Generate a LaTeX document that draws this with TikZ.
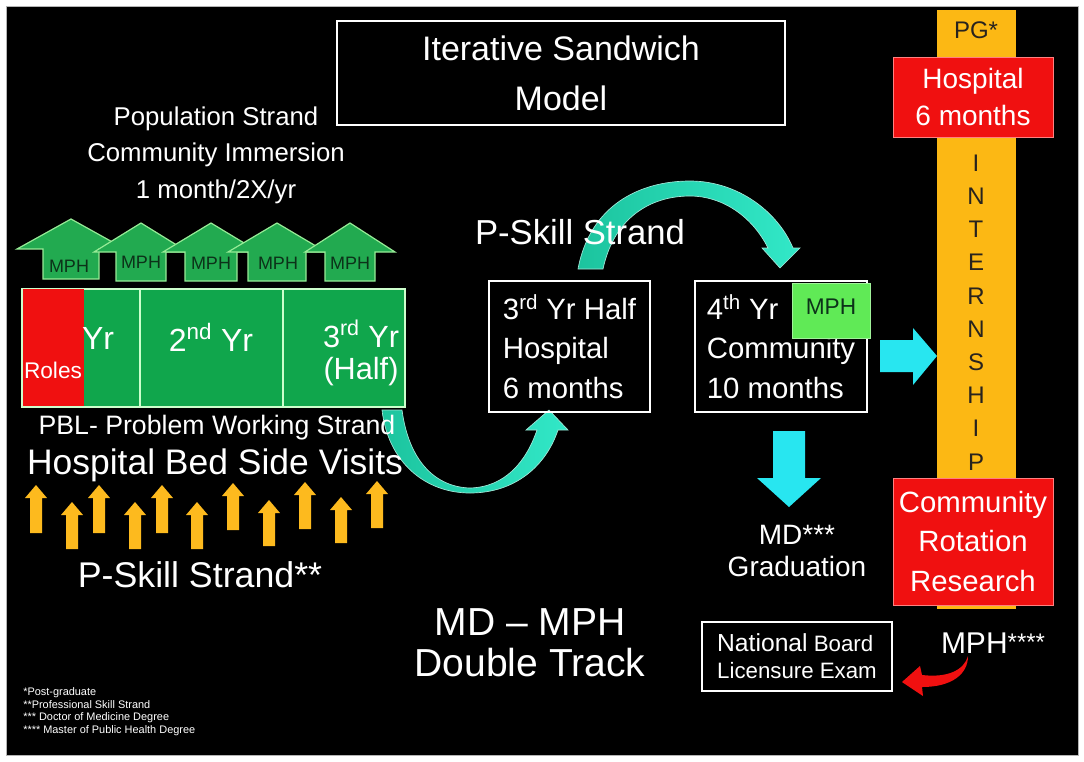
\documentclass[tikz,border=0pt]{standalone}
\usepackage{fontspec}
\setmainfont{Liberation Sans}
\newcommand{\myfs}[2]{\fontsize{#1pt}{#2pt}\selectfont}
\definecolor{barGreen}{RGB}{16,166,76}
\definecolor{arrGreen}{RGB}{34,170,80}
\definecolor{arrEdge}{RGB}{150,235,150}
\definecolor{mphText}{RGB}{12,50,25}
\definecolor{boxRed}{RGB}{240,16,16}
\definecolor{barOrange}{RGB}{252,184,20}
\definecolor{arrYellow}{RGB}{253,186,30}
\definecolor{tealA}{RGB}{28,196,158}
\definecolor{tealB}{RGB}{50,232,200}
\definecolor{cyanA}{RGB}{40,230,240}
\definecolor{mphGreen}{RGB}{96,234,86}
\definecolor{frameGray}{RGB}{180,180,180}
\definecolor{darkTxt}{RGB}{40,35,30}
% style, cx, tip y, head half width, head base y, shaft half width, tail y
\newcommand{\blockarrowv}[7]{%
  \path[#1] (#2,#3) -- ({#2+#4},#5) -- ({#2+#6},#5) -- ({#2+#6},#7)
    -- ({#2-#6},#7) -- ({#2-#6},#5) -- ({#2-#4},#5) -- cycle;}
\tikzset{
  wtxt/.style={text=white, inner sep=0pt},
  greenarr/.style={fill=arrGreen, draw=arrEdge, line width=0.9pt},
  mphlbl/.style={text=mphText, inner sep=0pt, font=\myfs{13.5}{14}},
  yelarr/.style={fill=arrYellow},
  cellbox/.style={fill=barGreen, draw=white!80!green, line width=1pt, minimum height=88.5pt, inner sep=0pt},
  wbox/.style={draw=white, line width=0.8pt, text=white, inner sep=0pt},
  redbox/.style={fill=boxRed, draw=red!50!white, line width=0.6pt, text=white, inner sep=0pt, minimum width=120pt},
  tealarr/.style={left color=tealA, right color=tealB, draw=white!60!tealA, line width=0.5pt},
}
\begin{document}
\begin{tikzpicture}[x=0.75pt, y=-0.75pt]
\useasboundingbox (0,0) rectangle (1084,761);
\fill[white] (0,0) rectangle (1084,761);
\fill[black] (6,6) rectangle (1078,755);
\draw[frameGray, line width=0.75pt] (6,6) rectangle (1078,755);

% title
\node[wbox, minimum width=336pt, minimum height=78pt, align=center, font=\myfs{25.5}{37.5}] (title) at (561,73) {Iterative Sandwich\\Model};

% population strand
\node[wtxt, align=center, font=\myfs{19.3}{27.4}] (pop) at (216,155) {Population Strand\\Community Immersion\\1 month/2X/yr};

% green MPH arrows
\blockarrowv{greenarr}{71}{219}{54}{249}{28}{279}
\node[mphlbl] (m1) at (69,266) {MPH};
\blockarrowv{greenarr}{141}{223}{47}{252}{25}{281}
\node[mphlbl] (m2) at (141,262) {MPH};
\blockarrowv{greenarr}{211}{223}{48}{252}{26}{281}
\node[mphlbl] (m3) at (211,263) {MPH};
\blockarrowv{greenarr}{277}{223}{49}{252}{29}{281}
\node[mphlbl] (m4) at (278,263) {MPH};
\blockarrowv{greenarr}{350}{223}{45}{252}{25}{281}
\node[mphlbl] (m5) at (350,263) {MPH};

% year bar
\node[cellbox, minimum width=88.5pt] (c1) at (81,348) {};
\node[cellbox, minimum width=107.25pt] (c2) at (211.5,348) {};
\node[cellbox, minimum width=91.5pt] (c3) at (344,348) {};
\node[fill=boxRed, minimum width=45.75pt, minimum height=87.75pt, inner sep=0pt] (roles) at (53.5,347.5) {};
\node[wtxt, font=\myfs{17}{18}] (rolestxt) at (53,370) {Roles};
\node[wtxt, font=\myfs{24}{26}] (yr1) at (98,338) {Yr};
\node[wtxt, font=\myfs{24}{26}] (yr2) at (211,337) {2\textsuperscript{nd} Yr};
\node[wtxt, font=\myfs{23}{24}, align=center] (yr3) at (361,353) {3\textsuperscript{rd} Yr\\(Half)};

% teal arrow 1 (bar -> 3rd yr box)
\path[tealarr] (382,410) .. controls (388,462) and (425,493) .. (470,493)
  .. controls (515,493) and (546,466) .. (558,430) -- (568,430) -- (549,410)
  -- (526,430) -- (537,430) .. controls (526,462) and (505,487) .. (470,488)
  .. controls (436,487) and (409,462) .. (402,410) -- cycle;

\node[wtxt, font=\myfs{20}{22}] (pbl) at (217,428) {PBL- Problem Working Strand};
\node[wtxt, font=\myfs{26.6}{28}] (bed) at (215,465) {Hospital Bed Side Visits};

% yellow arrows
\foreach \cx/\ty/\by in {36/485/533, 72/502/549, 99/485/533, 135/502/549, 162/485/533, 197/502/549, 233/483/530, 269/500/546, 305/482/529, 341/497/543, 377/481/528}{
  \blockarrowv{yelarr}{\cx}{\ty}{11}{{\ty+13}}{6}{\by}
}
\node[wtxt, font=\myfs{26.8}{28}] (pskill) at (200,575) {P-Skill Strand**};

% boxes
\node[wbox, minimum width=120.75pt, minimum height=98.25pt, align=left, font=\myfs{22}{29.6}] (b3) at (569.5,346.5) {3\textsuperscript{rd} Yr Half\\Hospital\\6 months};
\node[wbox, minimum width=129pt, minimum height=98.25pt, align=left, font=\myfs{22}{29.6}] (b4) at (781,346.5) {4\textsuperscript{th} Yr\\Community\\10 months};
\node[fill=mphGreen, draw=mphGreen!60!white, line width=0.6pt, minimum width=58.5pt, minimum height=41.25pt, inner sep=0pt] (mph4) at (831,310.5) {};
\node[text=mphText, inner sep=0pt, font=\myfs{17}{18}] (mph4t) at (831,307) {MPH};

% teal arrow 2 (3rd yr box -> 4th yr box)
\path[tealarr] (578,269) .. controls (590,205) and (640,181) .. (690,181)
  .. controls (738,181) and (778,212) .. (793,248) -- (800,248) -- (780,268)
  -- (762,248) -- (768,248) .. controls (752,216) and (722,196) .. (690,196)
  .. controls (650,196) and (614,218) .. (603,269) -- cycle;
\node[wtxt, font=\myfs{26}{28}] (pskill2) at (580,232) {P-Skill Strand};

% cyan arrows
\path[fill=cyanA] (880,340) -- (913,340) -- (913,328) -- (937,356) -- (913,385) -- (913,372) -- (880,372) -- cycle;
\blockarrowv{fill=cyanA}{789}{507}{32}{478}{16}{431}
\node[wtxt, align=center, font=\myfs{21}{24}] (grad) at (797,551) {MD***\\Graduation};

% internship column
\node[fill=barOrange, minimum width=59.25pt, minimum height=449.25pt, inner sep=0pt] (intern) at (976.5,309.5) {};
\node[text=darkTxt, inner sep=0pt, font=\myfs{18}{19}] (pg) at (976,30) {PG*};
\node[redbox, minimum height=60pt, align=center, font=\myfs{21}{27.75}] (hosp) at (973,97) {Hospital\\6 months};
\node[redbox, minimum height=95.25pt, align=center, font=\myfs{22}{29.6}] (comm) at (973,541.5) {Community\\Rotation\\Research};
\node[text=darkTxt, inner sep=0pt, align=center, font=\myfs{18}{24.9}] (interntxt) at (976,312.5) {I\\N\\T\\E\\R\\N\\S\\H\\I\\P};

% bottom
\node[wtxt, align=center, font=\myfs{29.3}{31}] (dt) at (530,642.5) {MD -- MPH\\Double Track};
\node[wtxt, anchor=north west, align=left, font=\myfs{8.2}{9.6}] (fn) at (23,687) {*Post-graduate\\**Professional Skill Strand\\*** Doctor of Medicine Degree\\**** Master of Public Health Degree};
\node[wbox, minimum width=142.5pt, minimum height=51.75pt, align=left, font=\myfs{16.7}{20.3}] (nb) at (797,656.5) {{\myfs{18.5}{20.3}National} Board\\Licensure Exam};
\node[wtxt, font=\myfs{22.5}{24}] (mphs) at (993,643) {MPH\raisebox{2pt}{\myfs{18}{18}****}};

% red curved arrow (MPH**** -> National Board)
\coordinate (rtail) at (968,656);
\coordinate (rtip) at (902,682);
\path[fill=boxRed] (rtail) .. controls (964,670) and (948,678) .. (922,675) -- (920,666) -- (rtip)
  -- (923,696) -- (922,687) .. controls (952,687) and (968,674) .. (rtail) -- cycle;
\end{tikzpicture}
\end{document}
